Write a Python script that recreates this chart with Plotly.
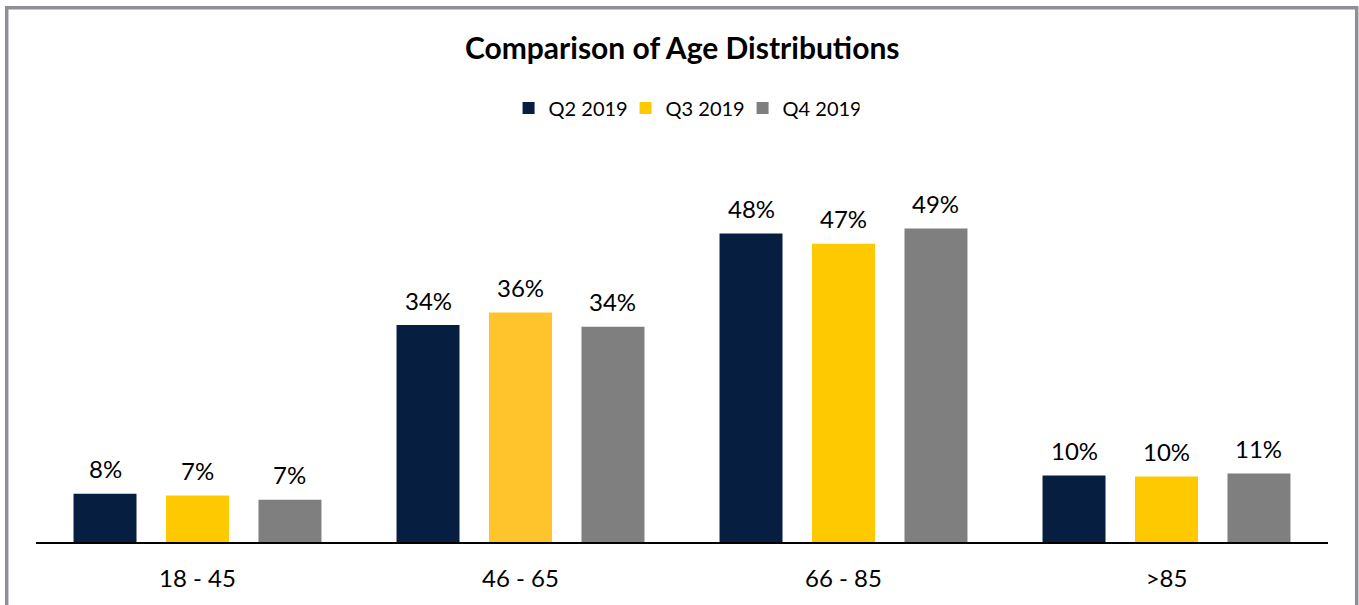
import plotly.graph_objects as go

categories = ["18 - 45", "46 - 65", "66 - 85", ">85"]
series_names = ["Q2 2019", "Q3 2019", "Q4 2019"]
q2_values = [0.0755, 0.340, 0.4835, 0.1042]
q3_values = [0.0729, 0.3597, 0.4674, 0.1027]
q4_values = [0.0661, 0.3373, 0.4914, 0.1074]
series_values = [q2_values, q3_values, q4_values]

NAVY = "#061F41"
YELLOW = "#FFC900"
YELLOW_LIGHT = "#FFC42B"
GRAY = "#7F7F7F"
series_colors = [NAVY, [YELLOW, YELLOW_LIGHT, YELLOW, YELLOW], GRAY]

W, H = 1359, 605
ML, MR, MT, MB = 36, 31, 223, 63
PW = W - ML - MR
PH = H - MT - MB
BARGAP = 0.141
BARGROUPGAP = 0.319
FONT = "Lato, 'Open Sans', sans-serif"

fig = go.Figure()
for name, vals, col in zip(series_names, series_values, series_colors):
    fig.add_trace(go.Bar(
        x=categories, y=vals, name=name,
        marker=dict(color=col, line=dict(width=0)),
        hoverinfo="skip",
    ))

slot_px = PW / len(categories) * (1 - BARGAP) / len(series_names)
annotations = []
for i, vals in enumerate(series_values):
    for c, v in zip(categories, vals):
        annotations.append(dict(
            x=c, y=v, xref="x", yref="y", text=f"{v:.0%}",
            showarrow=False, xshift=(i - 1) * slot_px, yshift=25,
            yanchor="middle", xanchor="center",
            font=dict(family=FONT, size=24, color="#000000"),
        ))

fig.update_layout(
    width=W, height=H,
    margin=dict(l=ML, r=MR, t=MT, b=MB),
    paper_bgcolor="white", plot_bgcolor="white",
    barmode="group", bargap=BARGAP, bargroupgap=BARGROUPGAP,
    title=dict(text="<b>Comparison of Age Distributions</b>", x=0.502, xanchor="center",
               y=1 - 48 / H, yanchor="middle", yref="container",
               font=dict(family=FONT, size=30, color="#000000")),
    legend=dict(orientation="h", x=0.5016, xanchor="center", y=(PH - (108 - MT)) / PH,
                yanchor="middle", font=dict(family=FONT, size=20, color="#000000"),
                traceorder="normal", entrywidth=72, entrywidthmode="pixels"),
    xaxis=dict(showline=True, linecolor="#000000", linewidth=2, ticks="",
               showgrid=False, tickfont=dict(family=FONT, size=24, color="#000000"),
               ticklabelstandoff=14, fixedrange=True),
    yaxis=dict(range=[0, 0.5], visible=False, showgrid=False, zeroline=False,
               fixedrange=True),
    annotations=annotations,
    shapes=[dict(type="rect", xref="paper", yref="paper",
                 x0=(6.7 - ML) / PW, x1=(1356.7 - ML) / PW,
                 y0=(PH + MT - 640) / PH, y1=(PH + MT - 7.7) / PH,
                 line=dict(color="#8E9096", width=3.5), fillcolor="rgba(0,0,0,0)",
                 layer="below")],
)

fig.write_html("out.html", config={"displayModeBar": False},
               post_script="document.body.style.margin='0';")
